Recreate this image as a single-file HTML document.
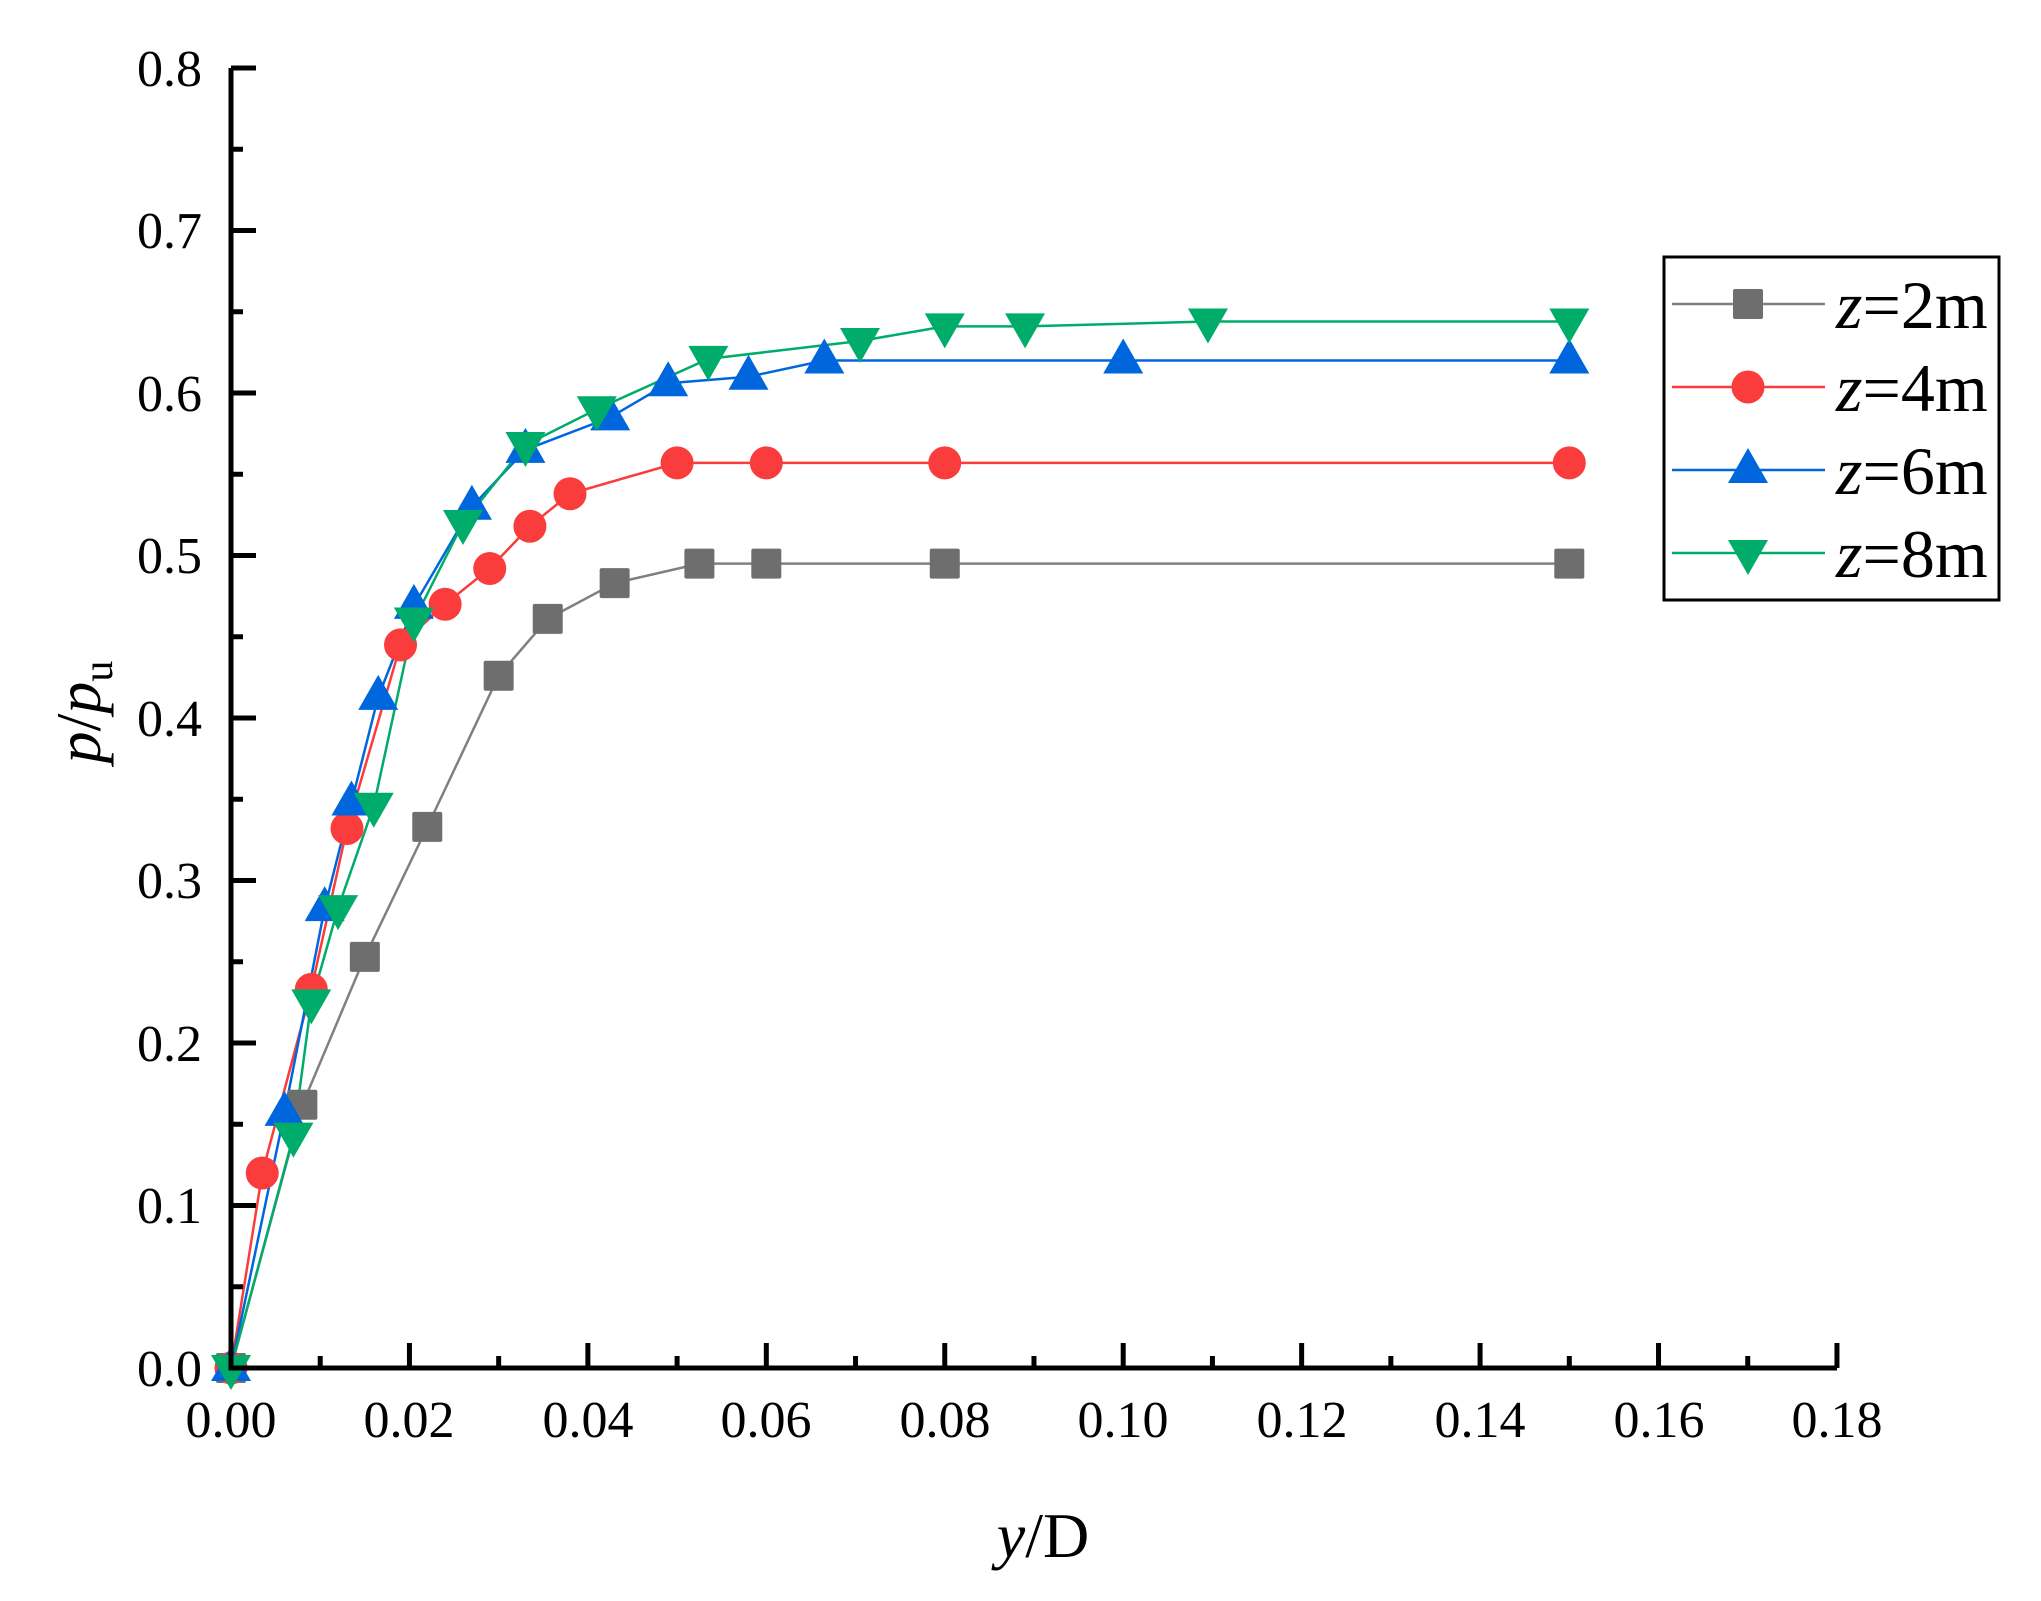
<!DOCTYPE html>
<html><head><meta charset="utf-8"><style>
body{margin:0;background:#fff}
svg{display:block}
text{font-family:"Liberation Serif",serif;fill:#000}
</style></head><body>
<svg id="s" width="2041" height="1601" viewBox="0 0 2041 1601" xmlns="http://www.w3.org/2000/svg">
<g id="data"></g>
<g stroke="#000" stroke-width="5" fill="none">
<path d="M231 68 V1368 H1837"/>
</g>
<g id="ticks" stroke="#000" stroke-width="5"></g>
<g font-size="52" text-anchor="end">
<text x="202" y="1386">0.0</text><text x="202" y="1223">0.1</text><text x="202" y="1061">0.2</text><text x="202" y="898">0.3</text><text x="202" y="736">0.4</text><text x="202" y="573">0.5</text><text x="202" y="411">0.6</text><text x="202" y="248">0.7</text><text x="202" y="86">0.8</text>
</g>
<g font-size="52" text-anchor="middle">
<text x="231" y="1437">0.00</text><text x="409" y="1437">0.02</text><text x="588" y="1437">0.04</text><text x="766" y="1437">0.06</text><text x="945" y="1437">0.08</text><text x="1123" y="1437">0.10</text><text x="1302" y="1437">0.12</text><text x="1480" y="1437">0.14</text><text x="1659" y="1437">0.16</text><text x="1837" y="1437">0.18</text>
</g>
<text x="1043" y="1557" font-size="64" text-anchor="middle"><tspan font-style="italic">y</tspan>/D</text>
<text transform="translate(100,712) rotate(-90)" font-size="64" text-anchor="middle"><tspan font-style="italic">p</tspan>/<tspan font-style="italic">p</tspan><tspan font-size="42" dy="12">u</tspan></text>
<rect x="1664" y="257" width="335" height="343" fill="#fff" stroke="#000" stroke-width="3"/>
<g id="leg"></g>
<g font-size="68">
<text x="1836" y="328"><tspan font-style="italic">z</tspan>=2m</text>
<text x="1836" y="411"><tspan font-style="italic">z</tspan>=4m</text>
<text x="1836" y="494"><tspan font-style="italic">z</tspan>=6m</text>
<text x="1836" y="577"><tspan font-style="italic">z</tspan>=8m</text>
</g>
</svg>
<script>
const NS="http://www.w3.org/2000/svg";
const X=v=>231+v*8922, Y=v=>1368-v*1625;
function el(p,t,a){const e=document.createElementNS(NS,t);for(const k in a)e.setAttribute(k,a[k]);p.appendChild(e);return e;}
const tk=document.getElementById('ticks');
for(let i=0;i<=16;i++){const y=Y(i*0.05);el(tk,'line',{x1:231,x2:231+(i%2?12:25),y1:y,y2:y});}
for(let i=0;i<=18;i++){const x=X(i*0.01);el(tk,'line',{x1:x,x2:x,y1:1368,y2:1368-(i%2?12:25)});}
const S=[
{c:"#808080",f:"#6e6e6e",m:"s",d:[[0,0],[0.008,0.162],[0.015,0.253],[0.022,0.333],[0.030,0.426],[0.0355,0.461],[0.043,0.483],[0.0525,0.495],[0.060,0.495],[0.080,0.495],[0.150,0.495]]},
{c:"#fa3c3c",f:"#fa3c3c",m:"c",d:[[0,0],[0.0035,0.12],[0.009,0.233],[0.013,0.332],[0.019,0.445],[0.024,0.47],[0.029,0.492],[0.0335,0.518],[0.038,0.538],[0.050,0.557],[0.060,0.557],[0.080,0.557],[0.150,0.557]]},
{c:"#0066dd",f:"#0066dd",m:"u",d:[[0,0],[0.006,0.157],[0.0105,0.283],[0.0135,0.348],[0.0165,0.413],[0.0205,0.469],[0.027,0.53],[0.033,0.565],[0.0425,0.585],[0.049,0.606],[0.058,0.61],[0.0665,0.62],[0.100,0.62],[0.150,0.62]]},
{c:"#00ac69",f:"#00ac69",m:"d",d:[[0,0],[0.007,0.143],[0.009,0.225],[0.012,0.283],[0.016,0.346],[0.0205,0.46],[0.026,0.52],[0.033,0.568],[0.041,0.59],[0.0535,0.621],[0.0705,0.632],[0.080,0.641],[0.089,0.641],[0.1095,0.644],[0.150,0.644]]}];
function mk(g,m,x,y,f){
 if(m=="s")el(g,'rect',{x:x-15,y:y-15,width:30,height:30,rx:2,fill:f});
 else if(m=="c")el(g,'circle',{cx:x,cy:y,r:16.5,fill:f});
 else if(m=="u")el(g,'polygon',{points:`${x},${y-22} ${x-20},${y+13} ${x+20},${y+13}`,fill:f});
 else el(g,'polygon',{points:`${x},${y+22} ${x-20},${y-13} ${x+20},${y-13}`,fill:f});
}
const dg=document.getElementById('data'),lg=document.getElementById('leg');
S.forEach((s,i)=>{
 el(dg,'polyline',{points:s.d.map(p=>X(p[0])+","+Y(p[1])).join(" "),fill:"none",stroke:s.c,"stroke-width":2.5});
});
S.forEach(s=>s.d.forEach(p=>mk(dg,s.m,X(p[0]),Y(p[1]),s.f)));
S.forEach((s,i)=>{const y=304+i*83;
 el(lg,'line',{x1:1672,x2:1825,y1:y,y2:y,stroke:s.c,"stroke-width":2.5});
 mk(lg,s.m,1748,y,s.f);});
</script>
</body></html>
